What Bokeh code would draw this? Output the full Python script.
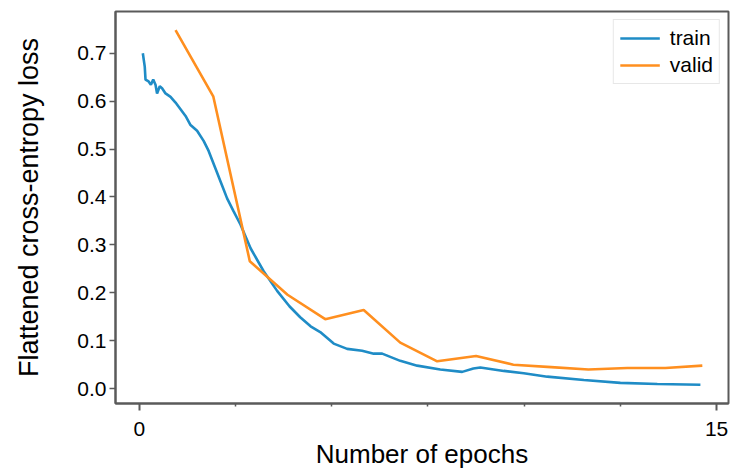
from bokeh.plotting import figure
from bokeh.models import FixedTicker, Range1d, Legend, LegendItem, PrintfTickFormatter
from bokeh.embed import file_html
from bokeh.resources import INLINE

# Training loss (epoch, value)
train_epoch = [0.09, 0.14, 0.16, 0.24, 0.30, 0.36, 0.42, 0.46, 0.53, 0.59, 0.68, 0.81,
               0.94, 1.07, 1.20, 1.33, 1.50, 1.67, 1.80, 1.98, 2.15, 2.28, 2.45, 2.63,
               2.89, 3.23, 3.58, 3.90, 4.18, 4.45, 4.70, 5.05, 5.40, 5.79, 6.09, 6.31,
               6.78, 7.22, 7.82, 8.39, 8.68, 8.86, 9.47, 9.99, 10.60, 11.55,
               12.50, 13.46, 14.58]
train_loss = [0.700, 0.672, 0.645, 0.641, 0.634, 0.645, 0.634, 0.616, 0.631, 0.627, 0.616,
              0.609, 0.597, 0.583, 0.569, 0.550, 0.538, 0.517, 0.496, 0.459, 0.424, 0.397,
              0.370, 0.342, 0.293, 0.245, 0.204, 0.172, 0.149, 0.130, 0.118, 0.094, 0.083,
              0.079, 0.073, 0.073, 0.058, 0.048, 0.040, 0.035, 0.042, 0.044, 0.037,
              0.032, 0.025, 0.018, 0.012, 0.0097, 0.008]

# Validation loss (epoch, value)
valid_epoch = [0.94, 1.92, 2.87, 3.85, 4.83, 5.83, 6.78, 7.74, 8.75, 9.72, 10.70, 11.67,
               12.68, 13.67, 14.63]
valid_loss = [0.748, 0.610, 0.266, 0.196, 0.145, 0.164, 0.096, 0.057, 0.068, 0.050, 0.045,
              0.040, 0.043, 0.043, 0.048]

x_major_ticks = [0, 15]
x_minor_ticks = [2.5, 5, 7.5, 10, 12.5]
y_ticks = [0.0, 0.1, 0.2, 0.3, 0.4, 0.5, 0.6, 0.7]

FONT = "Liberation Sans"
AXIS_COLOR = "#5a5a5a"

p = figure(width=730, height=471, output_backend="svg", toolbar_location=None,
           x_range=Range1d(-0.62, 15.31), y_range=Range1d(-0.031, 0.787),
           min_border_left=115, min_border_right=2, min_border_top=11, min_border_bottom=64)

p.background_fill_color = "white"
p.border_fill_color = "white"
p.grid.visible = False
p.outline_line_color = AXIS_COLOR
p.outline_line_width = 2

r_train = p.line(train_epoch, train_loss, line_color="#1f8cc6", line_width=2.6)
r_valid = p.line(valid_epoch, valid_loss, line_color="#ff8f1f", line_width=2.6)

xa = p.xaxis[0]
xa.ticker = FixedTicker(ticks=x_major_ticks, minor_ticks=x_minor_ticks)
xa.axis_label = "Number of epochs"
xa.axis_label_text_font = FONT
xa.axis_label_text_font_size = "26px"
xa.axis_label_text_font_style = "normal"
xa.axis_label_text_color = "black"
xa.axis_label_standoff = 0
xa.major_label_text_font = FONT
xa.major_label_text_font_size = "21px"
xa.major_label_text_color = "black"
xa.major_label_standoff = 11
xa.axis_line_color = AXIS_COLOR
xa.axis_line_width = 2
xa.major_tick_line_color = AXIS_COLOR
xa.major_tick_line_width = 2
xa.major_tick_out = 7
xa.major_tick_in = 0
xa.minor_tick_line_color = AXIS_COLOR
xa.minor_tick_line_width = 1.5
xa.minor_tick_out = 3
xa.minor_tick_in = 0

ya = p.yaxis[0]
ya.ticker = FixedTicker(ticks=y_ticks, minor_ticks=[])
ya.formatter = PrintfTickFormatter(format="%.1f")
ya.axis_label = "Flattened cross-entropy loss"
ya.axis_label_text_font = FONT
ya.axis_label_text_font_size = "27px"
ya.axis_label_text_font_style = "normal"
ya.axis_label_text_color = "black"
ya.axis_label_standoff = 30
ya.major_label_text_font = FONT
ya.major_label_text_font_size = "21px"
ya.major_label_text_color = "black"
ya.major_label_standoff = 3
ya.axis_line_color = AXIS_COLOR
ya.axis_line_width = 2
ya.major_tick_line_color = AXIS_COLOR
ya.major_tick_line_width = 1.5
ya.major_tick_out = 6
ya.major_tick_in = 0
ya.minor_tick_line_color = None

legend = Legend(items=[LegendItem(label="train", renderers=[r_train]),
                       LegendItem(label="valid", renderers=[r_valid])],
                location="top_right")
legend.label_text_font = FONT
legend.label_text_font_size = "21px"
legend.label_text_color = "black"
legend.glyph_width = 40
legend.glyph_height = 20
legend.label_standoff = 10
legend.spacing = 3
legend.padding = 6
legend.margin = 8
legend.border_line_color = "#d0d0d0"
legend.border_line_width = 1
legend.background_fill_alpha = 1.0
p.add_layout(legend)

open("out.html", "w").write(file_html(p, INLINE))
